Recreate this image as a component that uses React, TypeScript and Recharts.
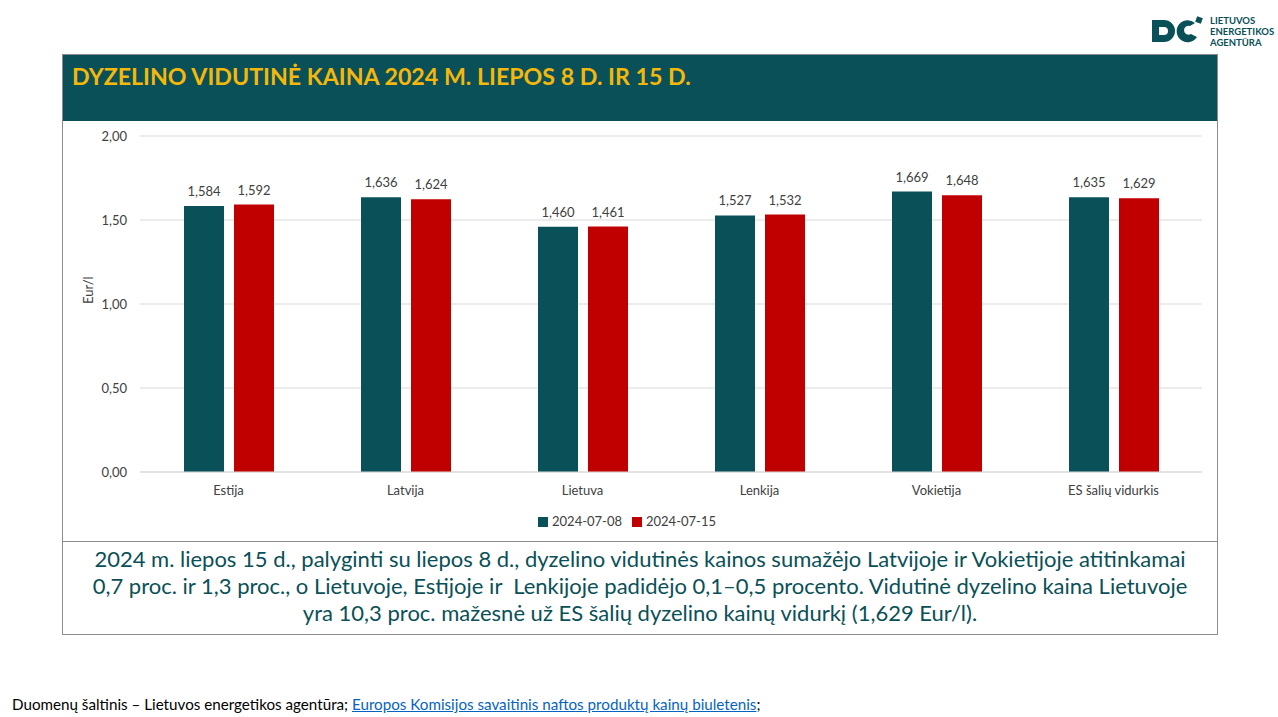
import { BarChart, Bar, XAxis, YAxis, CartesianGrid, Legend, LabelList } from 'recharts';

const countries = ['Estija', 'Latvija', 'Lietuva', 'Lenkija', 'Vokietija', 'ES šalių vidurkis'];
const price0708 = [1.584, 1.636, 1.46, 1.527, 1.669, 1.635];
const price0715 = [1.592, 1.624, 1.461, 1.532, 1.648, 1.629];
const yTicks = [0, 0.5, 1, 1.5, 2];

const TEAL = '#0a5058';
const RED = '#c00000';
const FONT = 'Lato, "Open Sans", sans-serif';

const fmt2 = (v: number) => v.toFixed(2).replace('.', ',');
const fmt3 = (v: number) => v.toFixed(3).replace('.', ',');

function Logo() {
  return (
    <div style={{ position: 'absolute', left: 1150, top: 14, display: 'flex', alignItems: 'center' }}>
      <svg width="56" height="34" viewBox="0 0 56 34">
        <path d="M2 6 h12 a11 11 0 0 1 0 22 h-12 z M9 13 v8 h5 a4 4 0 0 0 0 -8 z" fill={TEAL} fillRule="evenodd" />
        <path d="M45 9 a11 11 0 1 0 2 14 l-6 -3 a4.5 4.5 0 1 1 -1 -8 z" fill={TEAL} />
        <rect x="46" y="3" width="6" height="6" transform="rotate(20 49 6)" fill={TEAL} />
      </svg>
      <div style={{ marginLeft: 4, color: TEAL, fontFamily: FONT, fontWeight: 700, fontSize: 9.5, lineHeight: '11px' }}>
        <div>LIETUVOS</div>
        <div>ENERGETIKOS</div>
        <div>AGENTŪRA</div>
      </div>
    </div>
  );
}

export default function App() {
  const data = countries.map((c, i) => ({ name: c, '2024-07-08': price0708[i], '2024-07-15': price0715[i] }));

  return (
    <div style={{ position: 'absolute', left: 0, top: 0, width: 1278, height: 717, background: '#fff', fontFamily: FONT }}>
      <Logo />
      <div style={{ position: 'absolute', left: 62, top: 54, width: 1154, height: 579, border: '1px solid #8c8c8c' }} />
      <div style={{ position: 'absolute', left: 63, top: 55, width: 1154, height: 66, background: TEAL }}>
        <div style={{ position: 'absolute', left: 9, top: 7, color: '#f5b80a', fontWeight: 700, fontSize: 23.2 }}>
          DYZELINO VIDUTINĖ KAINA 2024 M. LIEPOS 8 D. IR 15 D.
        </div>
      </div>
      <div style={{ position: 'absolute', left: 62, top: 122 }}>
        <BarChart
          width={1156}
          height={418}
          data={data}
          margin={{ top: 14, right: 16, left: 0, bottom: 11 }}
          barSize={40}
          barGap={10}
        >
          <CartesianGrid vertical={false} stroke="#d9d9d9" />
          <XAxis
            dataKey="name"
            axisLine={{ stroke: '#d9d9d9' }}
            tickLine={false}
            height={38}
            tick={{ fill: '#404040', fontSize: 13, fontFamily: FONT }}
            tickMargin={8}
          />
          <YAxis
            domain={[0, 2]}
            ticks={yTicks}
            tickFormatter={fmt2}
            width={78}
            axisLine={false}
            tickLine={false}
            tickSize={0}
            tickMargin={13}
            tick={{ fill: '#404040', fontSize: 13, fontFamily: FONT }}
            label={{ value: 'Eur/l', angle: -90, position: 'insideLeft', offset: 26, fill: '#404040', fontSize: 13, fontFamily: FONT }}
          />
          <Legend
            verticalAlign="bottom"
            iconType="square"
            iconSize={10}
            formatter={(v: string) => <span style={{ color: '#404040', fontSize: 13, fontFamily: FONT }}>{v}</span>}
          />
          <Bar dataKey="2024-07-08" fill={TEAL} isAnimationActive={false}>
            <LabelList dataKey="2024-07-08" position="top" offset={10} formatter={(v: any) => fmt3(Number(v))} style={{ fill: '#404040', fontSize: 13, fontFamily: FONT }} />
          </Bar>
          <Bar dataKey="2024-07-15" fill={RED} isAnimationActive={false}>
            <LabelList dataKey="2024-07-15" position="top" offset={10} formatter={(v: any) => fmt3(Number(v))} style={{ fill: '#404040', fontSize: 13, fontFamily: FONT }} />
          </Bar>
        </BarChart>
      </div>
      <div style={{ position: 'absolute', left: 62, top: 541, width: 1156, borderTop: '1px solid #8c8c8c' }} />
      <div
        style={{
          position: 'absolute', left: 63, top: 545, width: 1154, textAlign: 'center', color: TEAL,
          fontSize: 22, lineHeight: '27px',
        }}
      >
        2024 m. liepos 15 d., palyginti su liepos 8 d., dyzelino vidutinės kainos sumažėjo Latvijoje ir Vokietijoje atitinkamai
        <br />
        0,7 proc. ir 1,3 proc., o Lietuvoje, Estijoje ir&nbsp; Lenkijoje padidėjo 0,1–0,5 procento. Vidutinė dyzelino kaina Lietuvoje
        <br />
        yra 10,3 proc. mažesnė už ES šalių dyzelino kainų vidurkį (1,629 Eur/l).
      </div>
      <div style={{ position: 'absolute', left: 12, top: 695, fontSize: 15.2, color: '#000' }}>
        Duomenų šaltinis – Lietuvos energetikos agentūra;{' '}
        <span style={{ color: '#0563c1', textDecoration: 'underline' }}>Europos Komisijos savaitinis naftos produktų kainų biuletenis</span>;
      </div>
    </div>
  );
}
